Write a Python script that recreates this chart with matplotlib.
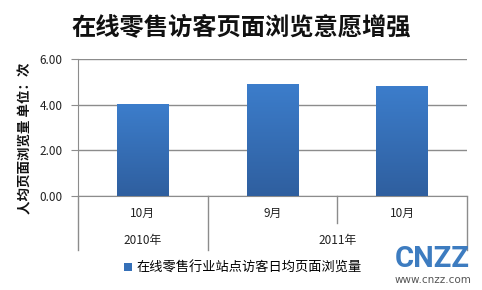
import matplotlib
matplotlib.use("Agg")
import matplotlib.pyplot as plt
import numpy as np
from matplotlib.lines import Line2D
from matplotlib.patches import Patch
from matplotlib.colors import LinearSegmentedColormap

plt.rcParams['font.family'] = ['Noto Sans CJK SC', 'DejaVu Sans']

title = "在线零售访客页面浏览意愿增强"
months = ["10月", "9月", "10月"]
years = ["2010年", "2011年"]
year_spans = [(0, 0), (1, 2)]
values = [4.00, 4.87, 4.78]
series_name = "在线零售行业站点访客日均页面浏览量"
ylabel = "人均页面浏览量 单位：次"
yticks = [0, 2, 4, 6]

W, H = 482, 290
fig = plt.figure(figsize=(W / 100, H / 100), dpi=100)
ax = fig.add_axes([78 / W, 1 - 196 / H, (467 - 78) / W, (196 - 59) / H])

x = np.arange(len(values))
bars = ax.bar(x, values, width=0.4, color="#3570b8", zorder=2)
cmap = LinearSegmentedColormap.from_list("g", ["#2f5f9f", "#3c7dcb"])
grad = np.linspace(0, 1, 100).reshape(-1, 1)
for b in bars:
    x0, y0 = b.get_x(), b.get_y()
    w, h = b.get_width(), b.get_height()
    ax.imshow(grad, extent=[x0, x0 + w, y0, y0 + h], origin="lower",
              cmap=cmap, aspect="auto", zorder=3)

ax.set_xlim(-0.5, len(values) - 0.5)
ax.set_ylim(0, 6)
ax.set_yticks(yticks)
ax.set_yticklabels([f"{v:.2f}" for v in yticks], fontsize=8.5, color="#222222")
ax.set_xticks([])
ax.yaxis.grid(True, color="#8c8c8c", linewidth=1.0, zorder=0)
ax.set_axisbelow(True)
for s in ["top", "right"]:
    ax.spines[s].set_visible(False)
ax.spines["left"].set_color("#8c8c8c")
ax.spines["bottom"].set_color("#8c8c8c")
ax.tick_params(axis="y", length=5, color="#8c8c8c", pad=6)

# category axis structure
trans = ax.get_xaxis_transform()
ncat = len(values)
full_bottom = -0.394
month_bottom = -0.197
boundaries = [-0.5 + i for i in range(ncat + 1)]
year_edges = set()
for a, b in year_spans:
    year_edges.add(a - 0.5)
    year_edges.add(b + 0.5)
for bd in boundaries:
    ybot = full_bottom if bd in year_edges else month_bottom
    ax.add_line(Line2D([bd, bd], [0, ybot], transform=trans, color="#8c8c8c",
                       linewidth=1.0, clip_on=False))
for i, m in enumerate(months):
    ax.text(i, -0.124, m, transform=trans, ha="center", va="center",
            fontsize=8.5, color="#222222")
for (a, b), yr in zip(year_spans, years):
    ax.text((a + b) / 2, -0.328, yr, transform=trans, ha="center", va="center",
            fontsize=8.5, color="#222222")

fig.text(241 / W, 1 - 27 / H, title, ha="center", va="center",
         fontsize=17.5, fontweight="bold", color="#111111")
fig.text(25 / W, 1 - 138 / H, ylabel, ha="center", va="center", rotation=90,
         fontsize=9.7, fontweight="bold", color="#111111")

handle = Patch(facecolor="#3570b8", edgecolor="none")
fig.legend([handle], [series_name], loc="center", bbox_to_anchor=(243 / W, 1 - 268 / H),
           frameon=False, fontsize=9.5, handlelength=0.6, handleheight=0.6,
           handletextpad=0.4, borderpad=0)

fig.text(432 / W, 1 - 259 / H, "CNZZ", ha="center", va="center",
         fontsize=21, fontweight="bold", color="#3d7cc0", family="Roboto")
fig.text(433 / W, 1 - 280 / H, "www.cnzz.com", ha="center", va="center",
         fontsize=7.5, color="#555555", family="DejaVu Sans")

fig.savefig("out.png", dpi=100)
